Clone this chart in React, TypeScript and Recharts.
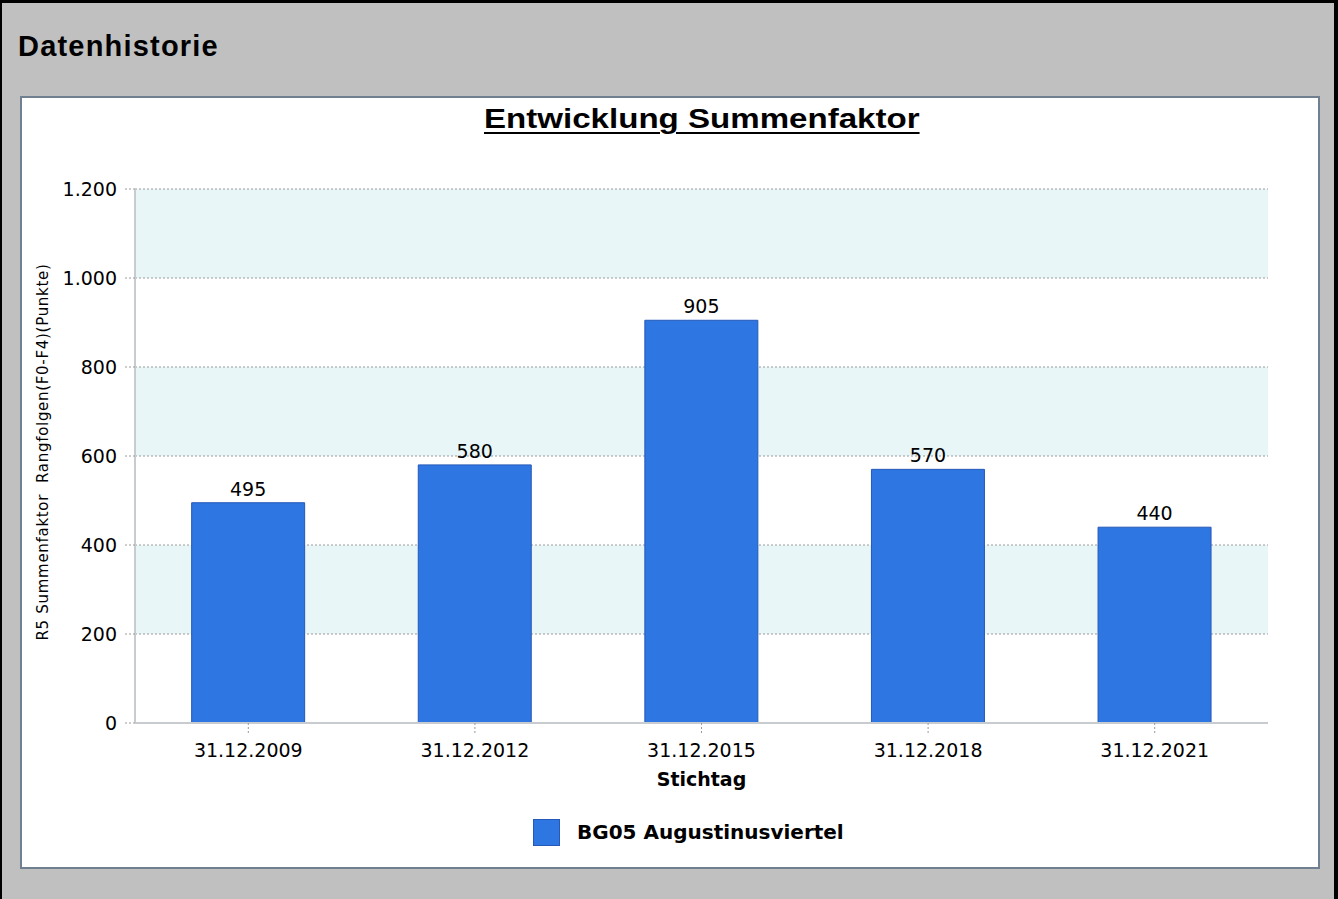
import { BarChart, Bar, XAxis, YAxis, CartesianGrid, Legend, LabelList } from 'recharts'

const categories = ['31.12.2009', '31.12.2012', '31.12.2015', '31.12.2018', '31.12.2021']
const values = [495, 580, 905, 570, 440]
const yTicks = [0, 200, 400, 600, 800, 1000, 1200]
const seriesName = 'BG05 Augustinusviertel'

const data = categories.map((stichtag, i) => ({ stichtag, wert: values[i] }))

const tickFont = { fontFamily: 'DejaVu Sans', fontSize: 19, fill: '#000' }
const barColor = '#2e76e2'
const barBorder = '#2559b8'

// 1200 -> "1.200"
const fmt = (v: number) => String(v).replace(/\B(?=(\d{3})+(?!\d))/g, '.')

function YLabel({ viewBox }: any) {
    const x = 23
    const y = viewBox.y + viewBox.height / 2 - 4
    return (
        <text
            x={x}
            y={y}
            transform={`rotate(-90, ${x}, ${y})`}
            textAnchor="middle"
            dominantBaseline="central"
            fontFamily="DejaVu Sans"
            fontSize={15}
            letterSpacing={0.7}
            fill="#000"
            style={{ whiteSpace: 'pre' }}
        >
            R5 Summenfaktor  Rangfolgen(F0-F4)(Punkte)
        </text>
    )
}

function XLabel({ viewBox }: any) {
    return (
        <text
            x={viewBox.x + viewBox.width / 2}
            y={viewBox.y + 63}
            textAnchor="middle"
            fontFamily="DejaVu Sans"
            fontWeight="bold"
            fontSize={19}
            fill="#000"
        >
            Stichtag
        </text>
    )
}

function LegendBox({ payload }: any) {
    return (
        <div style={{ height: 40, display: 'flex', alignItems: 'center' }}>
            {(payload || []).map((p: any) => (
                <div key={p.value} style={{ display: 'flex', alignItems: 'center' }}>
                    <span
                        style={{
                            width: 27,
                            height: 27,
                            boxSizing: 'border-box',
                            background: barColor,
                            border: `1px solid ${barBorder}`,
                            marginRight: 17,
                        }}
                    />
                    <span style={{ fontFamily: 'DejaVu Sans', fontWeight: 'bold', fontSize: 20, color: '#000' }}>
                        {p.value}
                    </span>
                </div>
            ))}
        </div>
    )
}

export default function App() {
    return (
        <div
            style={{
                position: 'absolute',
                left: 0,
                top: 0,
                width: 1338,
                height: 899,
                boxSizing: 'border-box',
                background: '#c0c0c0',
                borderTop: '3px solid #000',
                borderLeft: '2px solid #000',
                borderRight: '4px solid #000',
            }}
        >
            <div
                style={{
                    position: 'absolute',
                    left: 16,
                    top: 28.5,
                    fontFamily: 'Liberation Sans',
                    fontWeight: 'bold',
                    fontSize: 29,
                    lineHeight: '29px',
                    letterSpacing: 1.2,
                    color: '#000',
                }}
            >
                Datenhistorie
            </div>
            <div
                style={{
                    position: 'absolute',
                    left: 18,
                    top: 93,
                    width: 1300,
                    height: 773,
                    boxSizing: 'border-box',
                    background: '#fff',
                    border: '2px solid #708090',
                }}
            />
            <div
                style={{
                    position: 'absolute',
                    left: 18 + 115 + 1133 / 2 - 300,
                    width: 600,
                    top: 103,
                    textAlign: 'center',
                    fontFamily: 'Liberation Sans',
                    fontWeight: 'bold',
                    fontSize: 27,
                    lineHeight: '27px',
                    color: '#000',
                }}
            >
                <span
                    style={{
                        display: 'inline-block',
                        transform: 'scaleX(1.225)',
                        textDecoration: 'underline',
                        textDecorationThickness: 2,
                        textUnderlineOffset: 4,
                    }}
                >
                    Entwicklung Summenfaktor
                </span>
            </div>
            <div style={{ position: 'absolute', left: 18, top: 93 }}>
                <BarChart
                    width={1300}
                    height={773}
                    data={data}
                    margin={{ top: 93, right: 52, bottom: 17, left: 0 }}
                    barCategoryGap="25%"
                >
                    <CartesianGrid
                        vertical={false}
                        stroke="#9a9a9a"
                        strokeDasharray="2 2"
                        horizontalFill={['#e8f6f8', '#ffffff']}
                        fillOpacity={1}
                    />
                    <XAxis
                        dataKey="stichtag"
                        height={89}
                        interval={0}
                        tick={tickFont}
                        tickSize={10}
                        tickMargin={11}
                        axisLine={{ stroke: '#c8ccd0', strokeWidth: 2 }}
                        tickLine={{ stroke: '#9a9a9a', strokeDasharray: '2 2' }}
                        label={<XLabel />}
                    />
                    <YAxis
                        width={115}
                        domain={[0, 1200]}
                        ticks={yTicks}
                        interval={0}
                        tickFormatter={fmt}
                        tick={tickFont}
                        tickSize={10}
                        tickMargin={8}
                        axisLine={{ stroke: '#c8ccd0', strokeWidth: 2 }}
                        tickLine={{ stroke: '#9a9a9a', strokeDasharray: '2 2' }}
                        label={<YLabel />}
                    />
                    <YAxis
                        yAxisId="rechts"
                        orientation="right"
                        width={0}
                        domain={[0, 1200]}
                        tick={false}
                        tickLine={false}
                        axisLine={{ stroke: '#c8ccd0', strokeWidth: 2 }}
                    />
                    <Legend
                        verticalAlign="bottom"
                        content={<LegendBox />}
                        wrapperStyle={{ left: 513, width: 500, height: 40 }}
                    />
                    <Bar
                        dataKey="wert"
                        name={seriesName}
                        fill={barColor}
                        stroke={barBorder}
                        strokeWidth={1}
                        isAnimationActive={false}
                    >
                        <LabelList
                            dataKey="wert"
                            position="top"
                            offset={7}
                            formatter={(v: any) => fmt(Number(v))}
                            style={{ fontFamily: 'DejaVu Sans', fontSize: 19, fill: '#000' }}
                        />
                    </Bar>
                </BarChart>
            </div>
        </div>
    )
}
